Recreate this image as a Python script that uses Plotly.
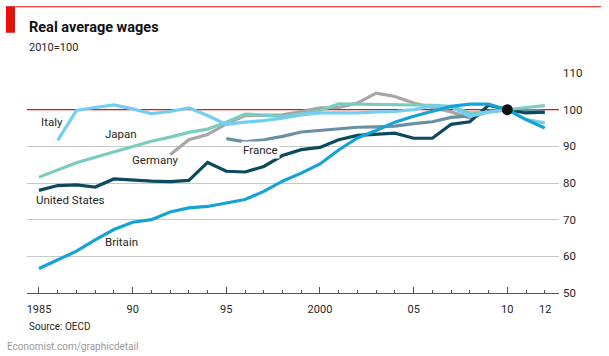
import plotly.graph_objects as go

years_all = list(range(1985, 2013))

italy_years = list(range(1986, 2013))
italy = [91.6, 99.8, 100.6, 101.3, 100.2, 98.9, 99.5, 100.5, 98.4, 96.0,
         96.6, 97.0, 97.7, 98.6, 99.1, 99.1, 99.1, 99.4, 99.5, 100.0,
         101.0, 100.8, 98.2, 99.3, 100.0, 97.3, 96.4]

japan_years = list(range(1985, 2013))
japan = [81.6, 83.6, 85.5, 87.0, 88.4, 89.8, 91.4, 92.5, 93.8, 94.7,
         96.6, 98.8, 98.5, 98.2, 98.8, 99.7, 101.6, 101.5, 101.4, 101.5,
         101.4, 101.2, 100.9, 99.1, 99.3, 100.0, 100.6, 101.1]

germany_years = list(range(1992, 2013))
germany = [87.7, 91.8, 93.2, 96.1, 98.4, 98.5, 98.6, 99.5, 100.5, 100.6,
           101.8, 104.5, 103.6, 101.8, 100.5, 99.4, 97.7, 99.5, 100.0, 99.5, 99.1]

france_years = list(range(1995, 2013))
france = [92.1, 91.2, 91.8, 92.7, 93.9, 94.4, 94.9, 95.2, 95.3, 95.5,
          96.2, 96.7, 97.9, 98.3, 99.5, 100.0, 99.8, 99.6]

us_years = list(range(1985, 2013))
us = [78.0, 79.3, 79.5, 78.9, 81.1, 80.7, 80.5, 80.4, 80.7, 85.6,
      83.2, 83.0, 84.5, 87.5, 89.1, 89.7, 91.8, 93.0, 93.2, 93.6,
      92.2, 92.2, 96.0, 96.7, 101.2, 100.0, 99.1, 99.3]

britain_years = list(range(1985, 2013))
britain = [56.7, 59.1, 61.4, 64.5, 67.3, 69.3, 70.0, 72.1, 73.2, 73.6,
           74.5, 75.5, 77.7, 80.5, 82.7, 85.2, 89.0, 92.3, 94.3, 96.6,
           98.2, 99.5, 100.9, 101.5, 101.5, 100.0, 97.3, 95.0]

x_major = [1985, 1990, 1995, 2000, 2005, 2010]
x_major_text = ["1985", "90", "95", "2000", "05", "10"]
y_ticks = [50, 60, 70, 80, 90, 100, 110]
x_range = [1984.36, 2012.76]
base_value = 100

series = [
    ("Germany", germany_years, germany, "#a6a6a6"),
    ("France", france_years, france, "#6b8fa3"),
    ("United States", us_years, us, "#0c4a5e"),
    ("Japan", japan_years, japan, "#7ccbc0"),
    ("Italy", italy_years, italy, "#72cff3"),
    ("Britain", britain_years, britain, "#17a2d7"),
]

labels = [
    ("Italy", 1985.7, 96.7),
    ("Japan", 1989.4, 93.5),
    ("Germany", 1991.2, 86.4),
    ("France", 1996.8, 88.9),
    ("United States", 1986.7, 75.5),
    ("Britain", 1989.4, 63.8),
]

FONT = "Roboto"
TXT = "#262626"

fig = go.Figure()

# red 100 reference line (above gridlines, under the series)
fig.add_trace(go.Scatter(x=x_range, y=[base_value, base_value], mode="lines",
                         line=dict(color="#e3120b", width=1.1), hoverinfo="skip"))

for name, xs, ys, col in series:
    fig.add_trace(go.Scatter(x=xs, y=ys, mode="lines", name=name,
                             line=dict(color=col, width=3.2), hoverinfo="x+y+name"))

fig.add_trace(go.Scatter(x=[2010], y=[base_value], mode="markers",
                         marker=dict(color="#111111", size=11), hoverinfo="skip"))

for text, lx, ly in labels:
    fig.add_annotation(x=lx, y=ly, text=text, showarrow=False, xref="x", yref="y",
                       font=dict(family=FONT, size=11.5, color=TXT),
                       bgcolor="white" if text == "France" else "rgba(0,0,0,0)",
                       borderpad=1)

# "12" label at end of axis
fig.add_annotation(x=2012, y=0, xref="x", yref="paper", yanchor="top", yshift=-8,
                   text="12", showarrow=False, font=dict(family=FONT, size=11, color=TXT))

# titles and footers
fig.add_annotation(x=0, y=1.206, xref="paper", yref="paper", xanchor="left", yanchor="middle",
                   text="<b>Real average wages</b>", showarrow=False,
                   font=dict(family=FONT, size=14.5, color="#111111"))
fig.add_annotation(x=0, y=1.115, xref="paper", yref="paper", xanchor="left", yanchor="middle",
                   text="2010=100", showarrow=False,
                   font=dict(family=FONT, size=11, color=TXT))
fig.add_annotation(x=0, y=-0.153, xref="paper", yref="paper", xanchor="left", yanchor="middle",
                   text="Source: OECD", showarrow=False,
                   font=dict(family=FONT, size=10, color=TXT))
fig.add_annotation(x=-0.0414, y=-0.244, xref="paper", yref="paper", xanchor="left", yanchor="middle",
                   text="Economist.com/graphicdetail", showarrow=False,
                   font=dict(family=FONT, size=10, color="#9a9a9a"))

# red bar and top rule
fig.add_shape(type="rect", xref="paper", yref="paper", x0=-0.0395, x1=-0.0226,
              y0=1.183, y1=1.301, fillcolor="#e3120b", line=dict(width=0))
fig.add_shape(type="line", xref="paper", yref="paper", x0=-0.0395, x1=1.079,
              y0=1.301, y1=1.301, line=dict(color="#e3120b", width=1))

fig.update_layout(
    width=609, height=356,
    margin=dict(l=27, r=50, t=73, b=63),
    paper_bgcolor="white", plot_bgcolor="white",
    showlegend=False,
    font=dict(family=FONT, color=TXT),
    xaxis=dict(range=x_range, tickmode="array", tickvals=x_major,
               ticktext=x_major_text, ticks="inside", ticklen=6, tickcolor="#555555",
               tickwidth=1, showgrid=False, showline=True, linecolor="#555555",
               linewidth=1, zeroline=False, ticklabelstandoff=6,
               tickfont=dict(family=FONT, size=11, color=TXT),
               minor=dict(tickmode="array", tickvals=years_all, ticks="inside",
                          ticklen=3, tickcolor="#555555", showgrid=False)),
    yaxis=dict(range=[50, 110], tickmode="array", tickvals=y_ticks, side="right",
               showgrid=True, gridcolor="#c8c8c8", gridwidth=1.2, zeroline=False,
               ticks="", ticklabelstandoff=3,
               tickfont=dict(family=FONT, size=11.5, color=TXT)),
)

fig.write_html("out.html", config={"displayModeBar": False},
               post_script="document.body.style.margin='0';document.body.style.padding='0';document.body.style.overflow='hidden';")
